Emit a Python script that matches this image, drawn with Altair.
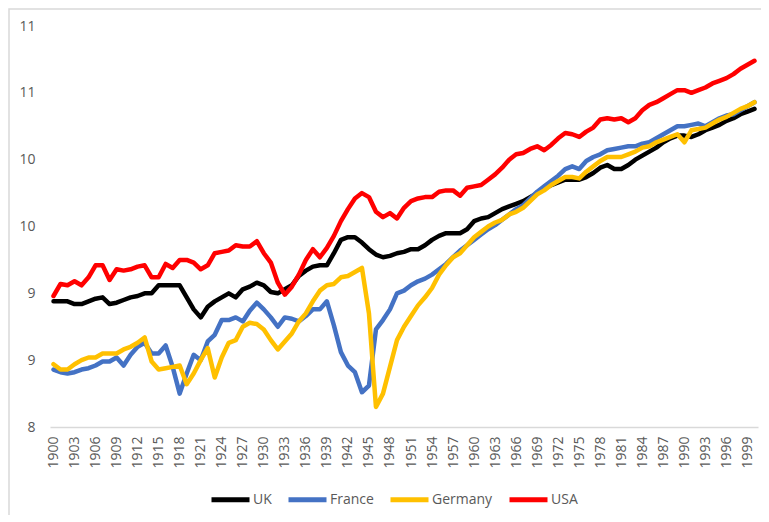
import altair as alt
import pandas as pd

years = list(range(1900, 2001))
countries = ["UK", "France", "Germany", "USA"]
colors = ["#000000", "#4472C4", "#FFC000", "#FF0000"]

uk = [8.94, 8.94, 8.94, 8.92, 8.92, 8.94, 8.96, 8.97, 8.92, 8.93,
      8.95, 8.97, 8.98, 9.00, 9.00, 9.06, 9.06, 9.06, 9.06, 8.97,
      8.88, 8.82, 8.90, 8.94, 8.97, 9.00, 8.97, 9.03, 9.05, 9.08,
      9.06, 9.01, 9.00, 9.03, 9.06, 9.13, 9.17, 9.20, 9.21, 9.21,
      9.30, 9.40, 9.42, 9.42, 9.38, 9.33, 9.29, 9.27, 9.28, 9.30,
      9.31, 9.33, 9.33, 9.36, 9.40, 9.43, 9.45, 9.45, 9.45, 9.48,
      9.54, 9.56, 9.57, 9.60, 9.63, 9.65, 9.67, 9.69, 9.72, 9.75,
      9.78, 9.81, 9.83, 9.85, 9.85, 9.85, 9.87, 9.90, 9.94, 9.96,
      9.93, 9.93, 9.96, 10.00, 10.03, 10.06, 10.09, 10.13, 10.16, 10.18,
      10.18, 10.17, 10.19, 10.22, 10.24, 10.26, 10.29, 10.31, 10.34, 10.36,
      10.38]

france = [8.43, 8.41, 8.40, 8.41, 8.43, 8.44, 8.46, 8.49, 8.49, 8.52,
          8.46, 8.54, 8.60, 8.63, 8.55, 8.55, 8.61, 8.45, 8.25, 8.40,
          8.54, 8.50, 8.64, 8.69, 8.80, 8.80, 8.82, 8.79, 8.87, 8.93,
          8.88, 8.82, 8.75, 8.82, 8.81, 8.79, 8.83, 8.88, 8.88, 8.94,
          8.76, 8.56, 8.46, 8.41, 8.26, 8.31, 8.73, 8.80, 8.88, 9.00,
          9.02, 9.06, 9.09, 9.11, 9.14, 9.18, 9.22, 9.27, 9.32, 9.36,
          9.40, 9.44, 9.48, 9.51, 9.55, 9.59, 9.63, 9.66, 9.71, 9.76,
          9.80, 9.84, 9.88, 9.93, 9.95, 9.93, 9.99, 10.02, 10.04, 10.07,
          10.08, 10.09, 10.10, 10.10, 10.12, 10.13, 10.16, 10.19, 10.22, 10.25,
          10.25, 10.26, 10.27, 10.25, 10.28, 10.31, 10.33, 10.34, 10.37, 10.40,
          10.43]

germany = [8.47, 8.43, 8.43, 8.47, 8.50, 8.52, 8.52, 8.55, 8.55, 8.55,
           8.58, 8.60, 8.63, 8.67, 8.49, 8.43, 8.44, 8.45, 8.46, 8.32,
           8.40, 8.50, 8.59, 8.37, 8.52, 8.63, 8.65, 8.75, 8.78, 8.77,
           8.73, 8.65, 8.58, 8.64, 8.70, 8.79, 8.85, 8.94, 9.02, 9.06,
           9.07, 9.12, 9.13, 9.16, 9.19, 8.85, 8.15, 8.25, 8.45, 8.65,
           8.75, 8.83, 8.91, 8.97, 9.04, 9.14, 9.21, 9.27, 9.30, 9.36,
           9.42, 9.46, 9.50, 9.53, 9.55, 9.59, 9.61, 9.64, 9.69, 9.74,
           9.77, 9.81, 9.84, 9.87, 9.87, 9.86, 9.91, 9.95, 9.99, 10.02,
           10.02, 10.02, 10.04, 10.06, 10.09, 10.10, 10.13, 10.15, 10.17, 10.19,
           10.13, 10.22, 10.23, 10.24, 10.27, 10.30, 10.32, 10.35, 10.38, 10.40,
           10.43]

usa = [8.98, 9.07, 9.06, 9.09, 9.06, 9.12, 9.21, 9.21, 9.10, 9.18,
       9.17, 9.18, 9.20, 9.21, 9.12, 9.12, 9.22, 9.19, 9.25, 9.25,
       9.23, 9.18, 9.21, 9.30, 9.31, 9.32, 9.36, 9.35, 9.35, 9.39,
       9.30, 9.23, 9.08, 8.99, 9.05, 9.14, 9.25, 9.33, 9.27, 9.34,
       9.43, 9.54, 9.63, 9.71, 9.75, 9.72, 9.61, 9.57, 9.60, 9.56,
       9.64, 9.69, 9.71, 9.72, 9.72, 9.76, 9.77, 9.77, 9.73, 9.79,
       9.80, 9.81, 9.85, 9.89, 9.94, 10.00, 10.04, 10.05, 10.08, 10.10,
       10.07, 10.11, 10.16, 10.20, 10.19, 10.17, 10.21, 10.24, 10.30, 10.31,
       10.30, 10.31, 10.28, 10.31, 10.37, 10.41, 10.43, 10.46, 10.49, 10.52,
       10.52, 10.50, 10.52, 10.54, 10.57, 10.59, 10.61, 10.64, 10.68, 10.71,
       10.74]

x_tick_years = list(range(1900, 2000, 3))
y_ticks = [8, 8.5, 9, 9.5, 10, 10.5, 11]

series = {"UK": uk, "France": france, "Germany": germany, "USA": usa}
rows = []
for c in countries:
    for yr, v in zip(years, series[c]):
        rows.append({"year": yr, "country": c, "value": v})
df = pd.DataFrame(rows)

FONT = "Open Sans"
GRAY = "#595959"

x_enc = alt.X("year:Q",
              scale=alt.Scale(domain=[1899.5, 2000.5], nice=False, zero=False),
              axis=alt.Axis(values=x_tick_years, format="d", labelAngle=-90,
                            grid=False, ticks=False, tickSize=0,
                            domainColor="#d9d9d9", domainWidth=1.5,
                            labelPadding=9, labelFont=FONT, labelFontSize=14,
                            labelColor=GRAY, title=None, labelOverlap=False))
y_enc = alt.Y("value:Q",
              scale=alt.Scale(domain=[8, 11], nice=False, zero=False),
              axis=alt.Axis(values=y_ticks, labelExpr="round(datum.value)",
                            grid=False, ticks=False, tickSize=0, domain=False,
                            labelPadding=15, labelFont=FONT, labelFontSize=14,
                            labelColor=GRAY, title=None, labelOverlap=False))
color_enc = alt.Color("country:N",
                      scale=alt.Scale(domain=countries, range=colors),
                      legend=alt.Legend(title=None, orient="none",
                                        legendX=159, legendY=452,
                                        direction="horizontal",
                                        symbolType="stroke", symbolSize=1444,
                                        symbolStrokeWidth=5,
                                        labelFont=FONT, labelFontSize=14,
                                        labelColor=GRAY, labelOffset=1,
                                        columnPadding=6))

base = alt.Chart(df).mark_line(strokeWidth=4.5, strokeJoin="round",
                               strokeCap="round").encode(
    x=x_enc, y=y_enc, color=color_enc, order="year:Q")

lines = [base.transform_filter(alt.datum.country == c) for c in countries]

frame = alt.Chart(pd.DataFrame({"k": [0]})).mark_rect(
    fill="white", fillOpacity=0, stroke="#d9d9d9", strokeWidth=1.5
).encode(x=alt.value(-41), x2=alt.value(900),
         y=alt.value(-17), y2=alt.value(900))

chart = alt.layer(frame, *lines).properties(
    width=708, height=401,
    padding={"left": 42, "top": 18, "right": 3, "bottom": 88},
    autosize=alt.AutoSizeParams(type="none"),
    background="white",
).configure_view(stroke=None)

chart.save("out.html", embed_options={"renderer": "svg", "actions": False})
